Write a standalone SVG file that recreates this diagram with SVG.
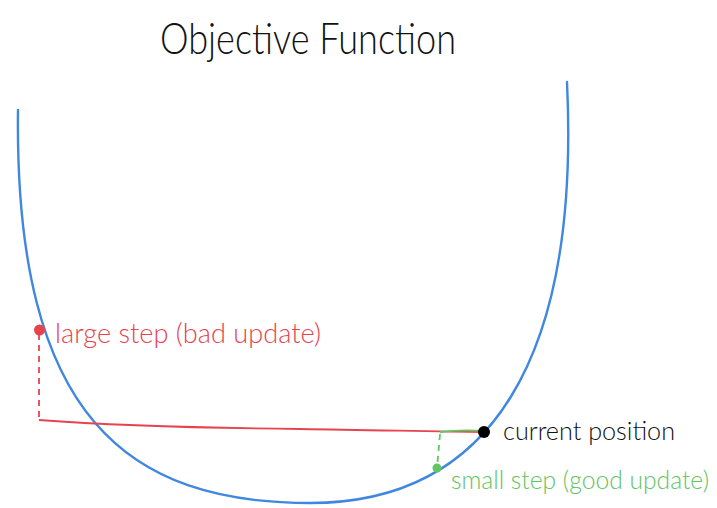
<svg xmlns="http://www.w3.org/2000/svg" width="717" height="508" viewBox="0 0 717 508">
<style>
  .lbl { font-family: "Lato", "Open Sans", "Liberation Sans", sans-serif; font-weight: 300; }
  .curve { fill: none; stroke: #3f87e0; stroke-width: 2.4; stroke-linecap: round; }
  .red { stroke: #e6434f; fill: none; stroke-width: 1.8; }
  .green { stroke: #62c462; fill: none; stroke-width: 1.8; }
  .dash { stroke-dasharray: 6 5; }
</style>
<rect width="717" height="508" fill="#ffffff"/>
<g id="title">
  <text class="lbl" x="160" y="54" font-size="44" fill="#111" textLength="296" lengthAdjust="spacingAndGlyphs">Objective Function</text>
</g>
<g id="objective-curve">
  <path class="curve" d="M18,110 C14,420 130,503 310,503 C490,503 580,360 567,82"/>
</g>
<g id="connectors">
  <path class="red dash" d="M39,334 L39,420"/>
  <path class="red" d="M39,420 C120,426 200,428 300,429 C380,430 440,432 484,432"/>
  <path class="green dash" d="M440,434 L437,468"/>
  <path class="green" d="M440,432 C455,430 470,430 484,431"/>
</g>
<g id="large-step">
  <circle cx="39.5" cy="330" r="5.5" fill="#e6434f"/>
  <text class="lbl" x="55" y="343" font-size="28" fill="#e6434f" textLength="266" lengthAdjust="spacingAndGlyphs">large step (bad update)</text>
</g>
<g id="current-position">
  <circle cx="484" cy="432" r="6" fill="#000"/>
  <text class="lbl" x="503" y="440" font-size="26" fill="#111" textLength="172" lengthAdjust="spacingAndGlyphs">current position</text>
</g>
<g id="small-step">
  <circle cx="437" cy="468" r="4.5" fill="#62c462"/>
  <text class="lbl" x="451" y="489" font-size="25" fill="#62c462" textLength="258" lengthAdjust="spacingAndGlyphs">small step (good update)</text>
</g>
</svg>
